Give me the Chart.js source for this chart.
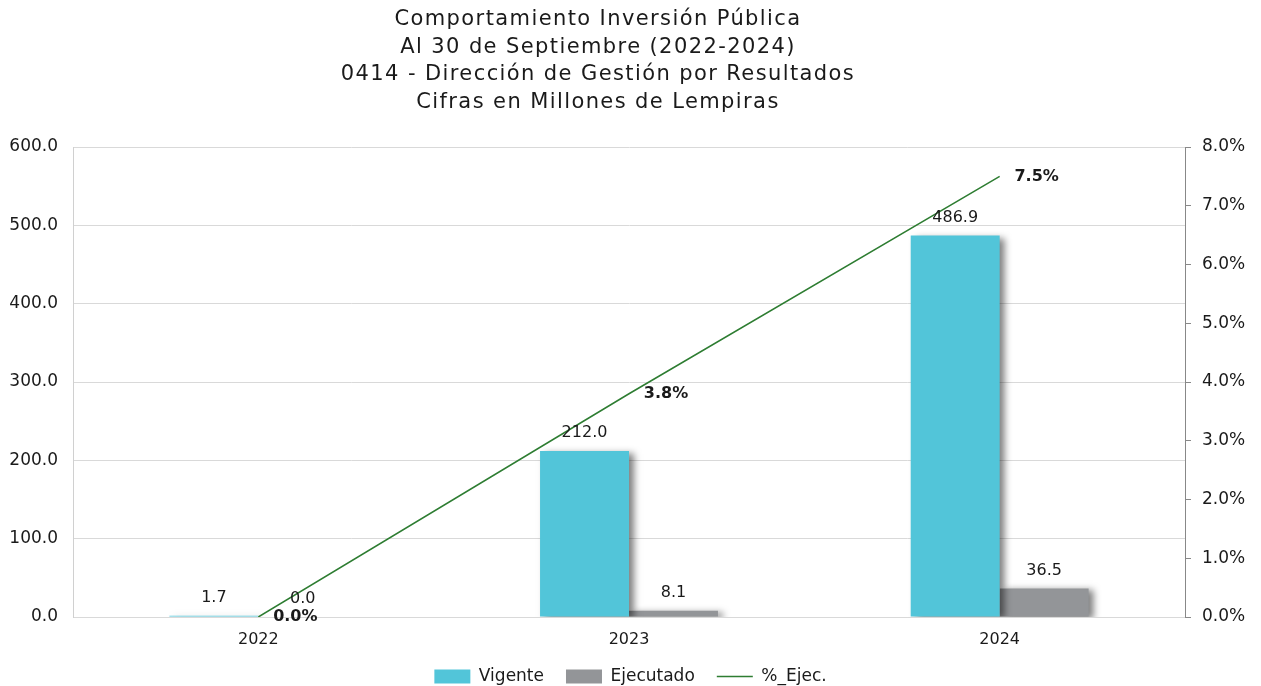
<!DOCTYPE html>
<html>
<head>
<meta charset="utf-8">
<script src="https://cdn.jsdelivr.net/npm/chart.js@4.4.0/dist/chart.umd.min.js"></script>
<style>
    body { margin: 0; background: #fff; }
    #wrap { position: relative; width: 1261px; height: 686px; }
    #titulo {
        position: absolute; left: 0; top: 5px; width: 1196px;
        text-align: center; font-family: "DejaVu Sans", sans-serif;
        font-size: 21px; letter-spacing: 1.4px; line-height: 27.5px; color: #1a1a1a;
    }
</style>
</head>
<body>
<div id="wrap">
    <div id="titulo">
        Comportamiento Inversión Pública<br>
        Al 30 de Septiembre (2022-2024)<br>
        0414 - Dirección de Gestión por Resultados<br>
        Cifras en Millones de Lempiras
    </div>
    <canvas id="myChart" width="1261" height="686"></canvas>
</div>
<script>
// DATOS
var anios = ['2022', '2023', '2024'];
var vigente = [1.7, 212.0, 486.9];
var ejecutado = [0.0, 8.1, 36.5];
var pctEjec = [0.0, 3.8, 7.5];

var fuente = '"DejaVu Sans", sans-serif';

// sombra de las barras
const sombraBarras = {
    id: 'sombraBarras',
    beforeDatasetDraw(chart, args) {
        if (args.meta.type !== 'bar') return;
        const ctx = chart.ctx;
        ctx.save();
        ctx.shadowColor = 'rgba(0,0,0,0.5)';
        ctx.shadowBlur = 7;
        ctx.shadowOffsetX = 5;
        ctx.shadowOffsetY = 2;
    },
    afterDatasetDraw(chart, args) {
        if (args.meta.type !== 'bar') return;
        chart.ctx.restore();
    }
};

// etiquetas de datos
const etiquetas = {
    id: 'etiquetas',
    afterDatasetsDraw(chart) {
        const ctx = chart.ctx;
        ctx.save();
        ctx.fillStyle = '#1a1a1a';
        ctx.textBaseline = 'middle';
        ctx.textAlign = 'center';
        chart.data.datasets.forEach(function (ds, i) {
            const meta = chart.getDatasetMeta(i);
            meta.data.forEach(function (el, j) {
                if (ds.type === 'line') {
                    ctx.font = 'bold 16px ' + fuente;
                    ctx.fillText(ds.data[j].toFixed(1) + '%', el.x + 37, el.y);
                } else {
                    ctx.font = '16px ' + fuente;
                    ctx.fillText(ds.data[j].toFixed(1), el.x, el.y - 18);
                }
            });
        });
        ctx.restore();
    }
};

const ctx = document.getElementById('myChart').getContext('2d');
const myChart = new Chart(ctx, {
    type: 'bar',
    data: {
        labels: anios,
        datasets: [{
            label: 'Vigente',
            data: vigente,
            backgroundColor: '#52c5d9',
            yAxisID: 'y',
            order: 2
        }, {
            label: 'Ejecutado',
            data: ejecutado,
            backgroundColor: '#939598',
            yAxisID: 'y',
            order: 2
        }, {
            type: 'line',
            label: '%_Ejec.',
            data: pctEjec,
            borderColor: '#2e7d32',
            backgroundColor: '#2e7d32',
            borderWidth: 1.5,
            pointRadius: 0,
            tension: 0,
            yAxisID: 'y1',
            order: 1
        }]
    },
    options: {
        responsive: false,
        animation: false,
        layout: { padding: { top: 147 } },
        categoryPercentage: 0.48,
        barPercentage: 1,
        plugins: {
            legend: {
                position: 'bottom',
                maxHeight: 40,
                labels: {
                    usePointStyle: true,
                    pointStyleWidth: 36,
                    boxHeight: 14,
                    padding: 22,
                    color: '#1a1a1a',
                    font: { family: fuente, size: 17 },
                    sort: function (a, b) { return a.datasetIndex - b.datasetIndex; },
                    generateLabels: function (chart) {
                        const items = Chart.defaults.plugins.legend.labels.generateLabels(chart);
                        items.forEach(function (it) {
                            const esLinea = chart.data.datasets[it.datasetIndex].type === 'line';
                            it.pointStyle = esLinea ? 'line' : 'rect';
                            if (!esLinea) it.lineWidth = 0;
                        });
                        return items;
                    }
                }
            },
            tooltip: { enabled: false }
        },
        scales: {
            x: {
                grid: { display: false },
                border: { color: '#d9d9d9' },
                ticks: { color: '#1a1a1a', padding: 5, font: { family: fuente, size: 16 } },
                afterFit: function (s) { s.height = 29; }
            },
            y: {
                position: 'left',
                min: 0,
                max: 600,
                grid: { color: '#d9d9d9', drawTicks: false },
                border: { color: '#d0d0d0' },
                ticks: {
                    stepSize: 100,
                    padding: 15,
                    color: '#1a1a1a',
                    font: { family: fuente, size: 17 },
                    callback: function (v) { return v.toFixed(1); }
                },
                afterFit: function (s) { s.width = 73; }
            },
            y1: {
                position: 'right',
                min: 0,
                max: 8,
                grid: { drawOnChartArea: false, color: '#888', tickLength: 6 },
                border: { color: '#888' },
                ticks: {
                    stepSize: 1,
                    padding: 11,
                    color: '#1a1a1a',
                    font: { family: fuente, size: 17 },
                    callback: function (v) { return v.toFixed(1) + '%'; }
                },
                afterFit: function (s) { s.width = 76; }
            }
        }
    },
    plugins: [sombraBarras, etiquetas]
});
</script>
</body>
</html>
